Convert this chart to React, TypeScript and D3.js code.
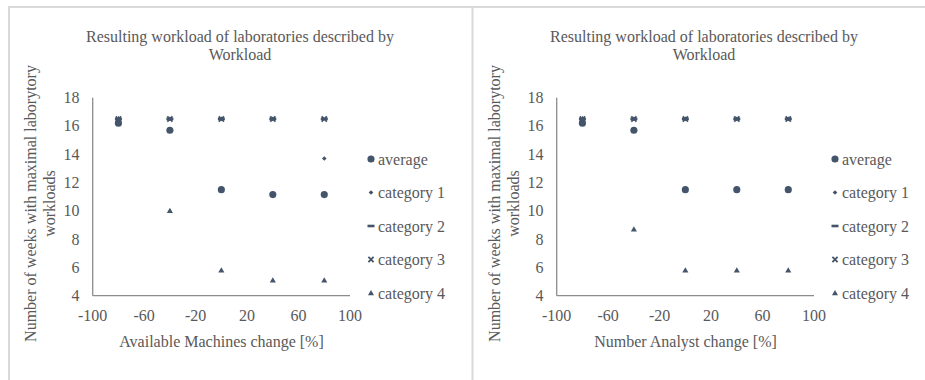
import React from "react";
import * as d3 from "d3";

const xValues = [-80, -40, 0, 40, 80];
const xTicks = [-100, -60, -20, 20, 60, 100];
const yTicks = [4, 6, 8, 10, 12, 14, 16, 18];
const seriesNames = ["average", "category 1", "category 2", "category 3", "category 4"];

const machinesAverage = [16.2, 15.7, 11.5, 11.15, 11.15];
const machinesCat1 = [16.5, 16.5, 16.5, 16.5, 13.7];
const machinesCat2 = [16.5, 16.5, 16.5, 16.5, 16.5];
const machinesCat3 = [16.5, 16.5, 16.5, 16.5, 16.5];
const machinesCat4 = [16.5, 10, 5.8, 5.1, 5.1];

const analystAverage = [16.2, 15.7, 11.5, 11.5, 11.5];
const analystCat1 = [16.5, 16.5, 16.5, 16.5, 16.5];
const analystCat2 = [16.5, 16.5, 16.5, 16.5, 16.5];
const analystCat3 = [16.5, 16.5, 16.5, 16.5, 16.5];
const analystCat4 = [16.5, 8.7, 5.8, 5.8, 5.8];

const MARK = "#44546a";
const TEXT = "#595959";
const FONT = "'Liberation Serif', 'Times New Roman', serif";
const FS = 16;

function Marker({ kind, x, y }: { kind: number; x: number; y: number }) {
  if (kind === 0) {
    return <path d={d3.symbol(d3.symbolCircle, 40)() as string} transform={`translate(${x},${y})`} fill={MARK} />;
  }
  if (kind === 1) {
    const s = 2.3;
    return <path d={`M${x},${y - s}L${x + s},${y}L${x},${y + s}L${x - s},${y}Z`} fill={MARK} />;
  }
  if (kind === 2) {
    return <rect x={x - 3.5} y={y - 1.3} width={7} height={2.6} fill={MARK} />;
  }
  if (kind === 3) {
    const s = 2.6;
    return (
      <path
        d={`M${x - s},${y - s}L${x + s},${y + s}M${x + s},${y - s}L${x - s},${y + s}`}
        stroke={MARK}
        strokeWidth={1.8}
        fill="none"
      />
    );
  }
  return <path d={d3.symbol(d3.symbolTriangle, 16)() as string} transform={`translate(${x},${y + 0.5})`} fill={MARK} />;
}

function Chart({ offset, xLabel, series }: { offset: number; xLabel: string; series: number[][] }) {
  const x = d3.scaleLinear().domain([-100, 100]).range([92.7, 350]);
  const y = d3.scaleLinear().domain([4, 18]).range([295.7, 97.7]);
  const legendY = [159, 192.5, 226, 259.5, 293];
  return (
    <g transform={`translate(${offset},0)`} fontFamily={FONT} fill={TEXT} fontSize={FS}>
      <text x={240} y={42} textAnchor="middle">Resulting workload of laboratories described by</text>
      <text x={240} y={59.5} textAnchor="middle">Workload</text>
      <g transform="rotate(-90)">
        <text x={-203.5} y={36} textAnchor="middle">Number of weeks with maximal laborytory</text>
        <text x={-203.5} y={54.5} textAnchor="middle">workloads</text>
      </g>
      {yTicks.map((t) => (
        <text key={t} x={79.5} y={y(t) + 5.5} textAnchor="end">{t}</text>
      ))}
      {xTicks.map((t) => (
        <text key={t} x={x(t)} y={320.5} textAnchor="middle">{t}</text>
      ))}
      <text x={221.5} y={347} textAnchor="middle">{xLabel}</text>
      <line x1={x(-100)} x2={x(-100)} y1={y(18)} y2={y(4)} stroke="#8c8c8c" strokeWidth={1.3} />
      <line x1={x(-100)} x2={x(100)} y1={y(4)} y2={y(4)} stroke="#8c8c8c" strokeWidth={1.3} />
      {series.map((vals, si) =>
        vals.map((v, i) => <Marker key={`${si}-${i}`} kind={si} x={x(xValues[i])} y={y(v)} />)
      )}
      {seriesNames.map((n, i) => (
        <g key={n}>
          <Marker kind={i} x={371} y={legendY[i]} />
          <text x={378} y={legendY[i] + 5.5}>{n}</text>
        </g>
      ))}
    </g>
  );
}

export default function App() {
  return (
    <svg width={925} height={380} style={{ position: "absolute", left: 0, top: 0, background: "#fff" }}>
      <rect x={0} y={0} width={925} height={380} fill="#fff" />
      <line x1={8} x2={925} y1={7} y2={7} stroke="#d9d9d9" strokeWidth={2} />
      <line x1={9} x2={9} y1={6} y2={380} stroke="#d9d9d9" strokeWidth={2} />
      <line x1={472.5} x2={472.5} y1={6} y2={380} stroke="#d9d9d9" strokeWidth={2} />
      <Chart
        offset={0}
        xLabel="Available Machines change [%]"
        series={[machinesAverage, machinesCat1, machinesCat2, machinesCat3, machinesCat4]}
      />
      <Chart
        offset={464}
        xLabel="Number Analyst change [%]"
        series={[analystAverage, analystCat1, analystCat2, analystCat3, analystCat4]}
      />
    </svg>
  );
}
